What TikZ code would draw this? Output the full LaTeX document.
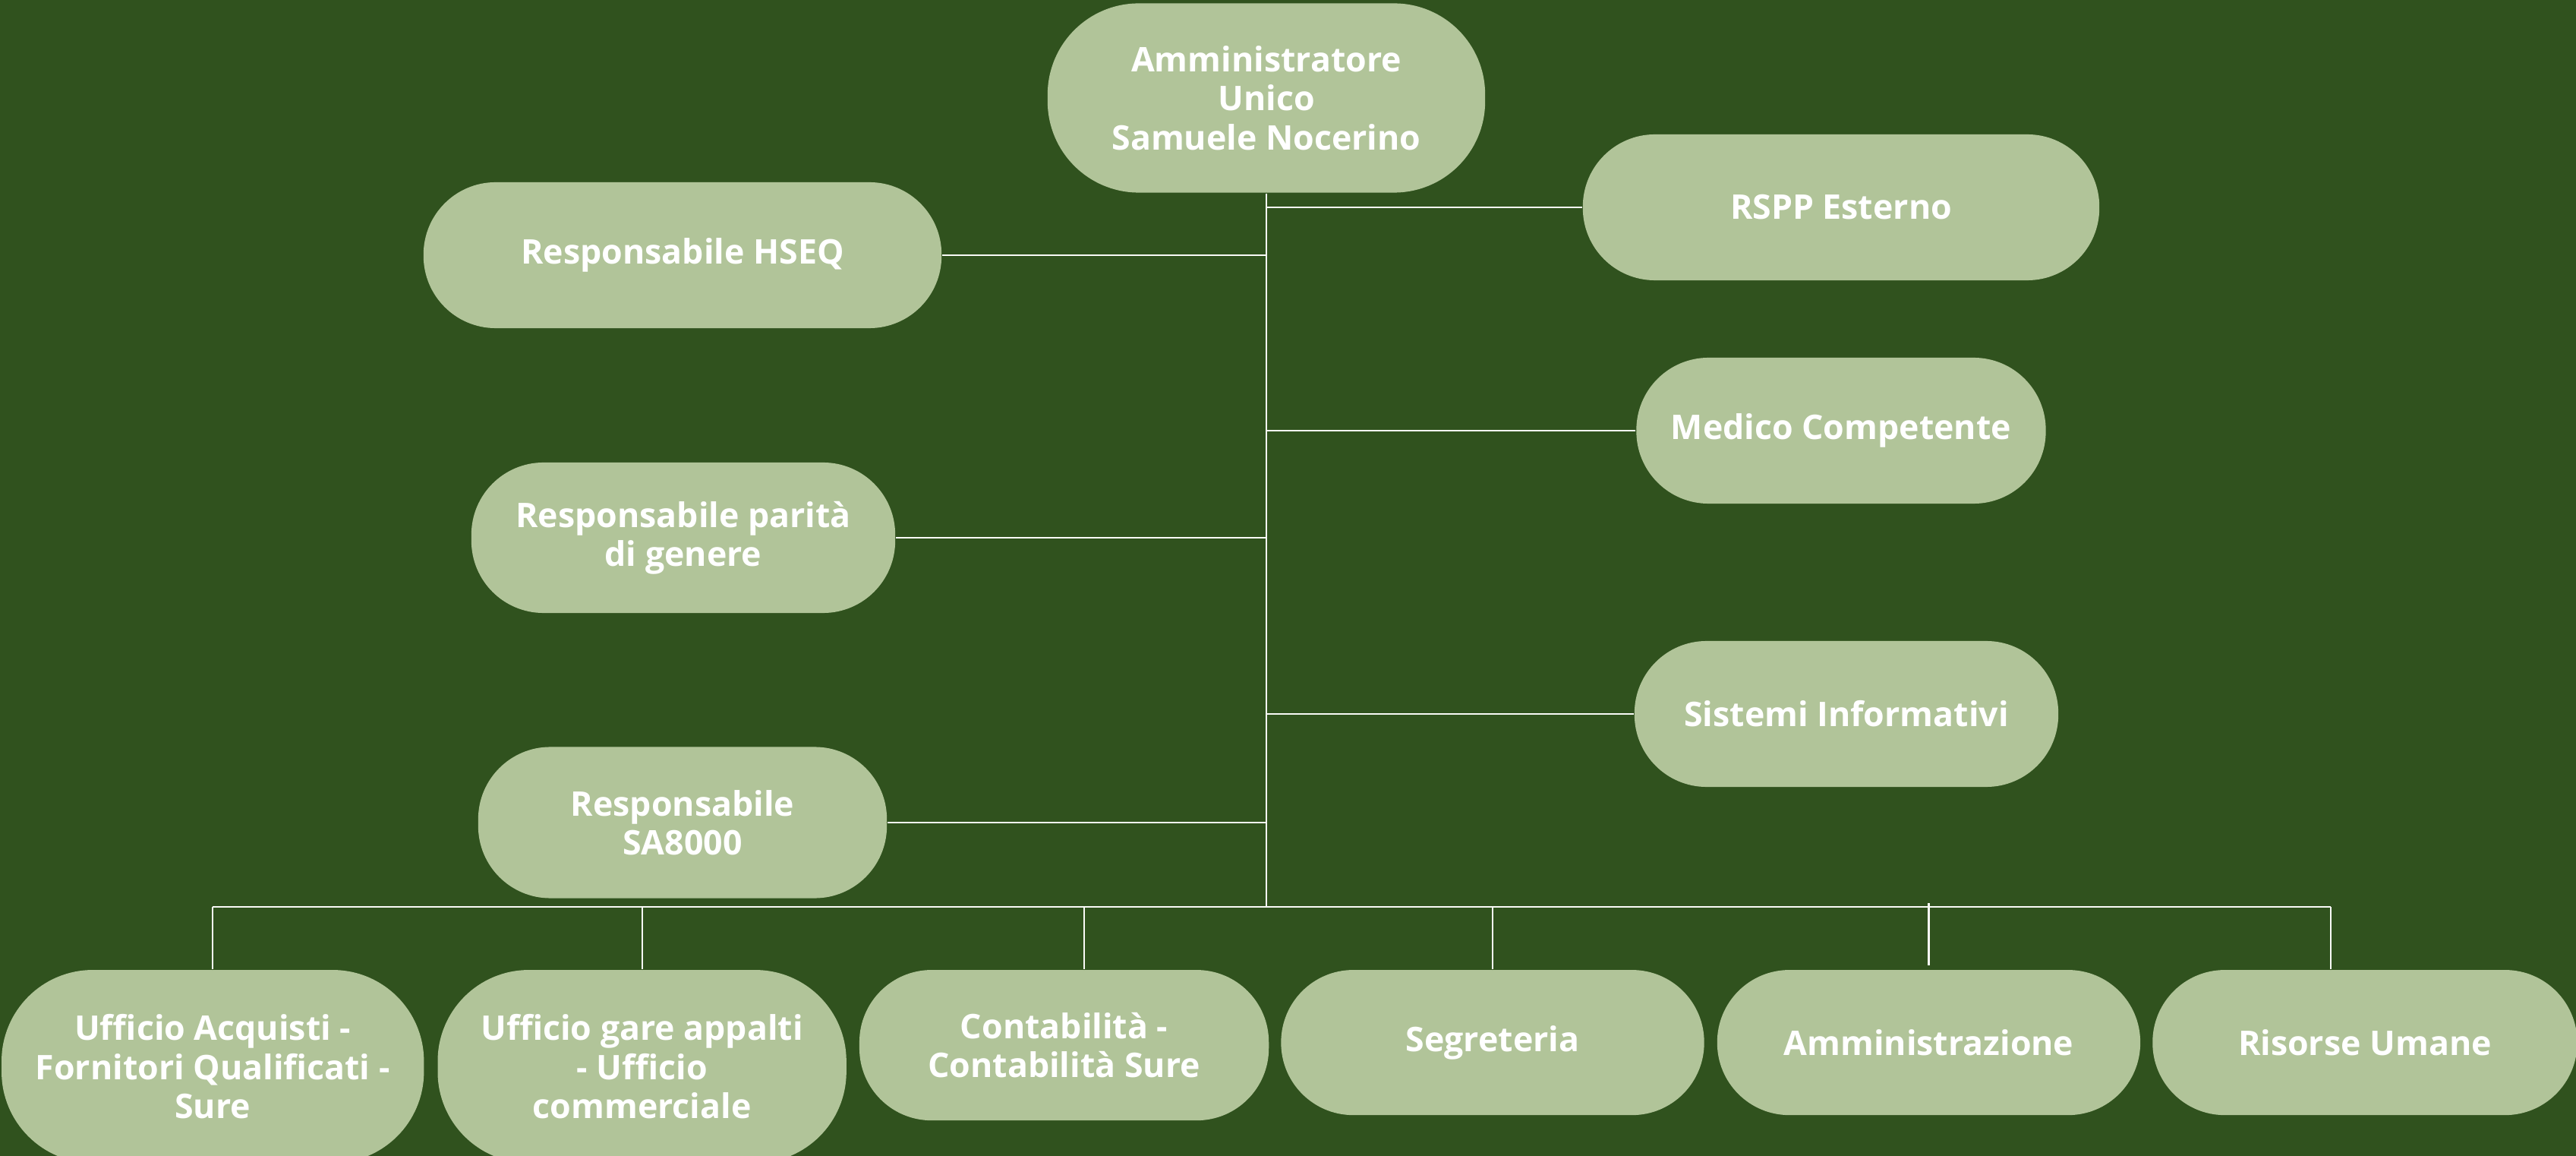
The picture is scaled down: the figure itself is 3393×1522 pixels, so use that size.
\documentclass[tikz,border=0pt]{standalone}
\usepackage{fontspec}
\setmainfont{Open Sans}
\usepackage{xcolor}
\usepackage{tikz}
\usetikzlibrary{positioning}
\definecolor{OrgBg}{HTML}{30521E}
\definecolor{OrgSage}{HTML}{B1C499}

\begin{document}
\begin{tikzpicture}[x=0.01cm,y=-0.01cm,
                    every node/.style={fill=OrgSage, rounded corners=0.95cm, align=center,
                                       inner sep=0pt, minimum width=5.5cm, minimum height=1.92cm,
                                       text=white, font=\fontsize{12.7}{14.6}\selectfont\bfseries},
                    every path/.style={draw=white!92!OrgSage, line width=0.6pt}]
\fill[OrgBg, draw=none] (0,0) rectangle (3393,1522);
\path[use as bounding box, draw=none] (0,0) rectangle (3393,1522);
% vertici
\node[minimum width=5.76cm, minimum height=2.49cm, rounded corners=1.2cm] (admin) at (1668,129) {Amministratore\\Unico\\Samuele Nocerino};
\node[minimum width=6.8cm] (rspp) at (2425,273) {RSPP Esterno};
\node[minimum width=6.82cm] (hseq) at (899,336) {Responsabile HSEQ};
\node[minimum width=5.39cm] (medico) at (2425,567) {Medico Competente};
\node[minimum width=5.58cm, minimum height=1.98cm] (parita) at (900,708) {Responsabile parità\\di genere};
\node[minimum width=5.58cm] (sistemi) at (2432,940) {Sistemi Informativi};
\node[minimum width=5.38cm, minimum height=1.99cm] (sa) at (899,1083) {Responsabile\\SA8000};
% uffici
\node[minimum width=5.56cm, minimum height=2.54cm, rounded corners=1.2cm, anchor=north west] (acquisti) at (1,1276) {Ufficio Acquisti -\\Fornitori Qualificati -\\Sure};
\node[minimum width=5.38cm, minimum height=2.54cm, rounded corners=1.2cm, anchor=north west] (gare) at ([xshift=0.16cm]acquisti.north east) {Ufficio gare appalti\\- Ufficio\\commerciale};
\node[minimum width=5.39cm, minimum height=1.98cm, anchor=north west] (contab) at ([xshift=0.15cm]gare.north east) {Contabilità -\\Contabilità Sure};
\node[minimum width=5.57cm, minimum height=1.91cm, anchor=north west] (segreteria) at ([xshift=0.14cm]contab.north east) {Segreteria};
\node[minimum width=5.57cm, minimum height=1.91cm, anchor=north west] (amm) at ([xshift=0.15cm]segreteria.north east) {Amministrazione};
\node[minimum width=5.59cm, minimum height=1.91cm, anchor=north west] (risorse) at ([xshift=0.14cm]amm.north east) {Risorse Umane};
\coordinate (busL) at (280,1194);
\coordinate (busR) at (3070,1194);
\coordinate (trunk) at (1668,1194);
\coordinate (contabdrop) at (1428,1194);
% linee
\draw (admin.south) -- (trunk);
\draw (busL) -- (busR);
\draw (rspp.west) -- (rspp.west -| trunk);
\draw (hseq.east) -- (hseq.east -| trunk);
\draw (medico.west) -- (medico.west -| trunk);
\draw (parita.east) -- (parita.east -| trunk);
\draw (sistemi.west) -- (sistemi.west -| trunk);
\draw (sa.east) -- (sa.east -| trunk);
\draw (acquisti.north) -- (acquisti.north |- busL);
\draw (gare.north) -- (gare.north |- busL);
\draw (contabdrop) -- (contabdrop |- contab.north);
\draw (segreteria.north) -- (segreteria.north |- busL);
\draw ([yshift=0.05cm]amm.north) -- ([yshift=0.05cm]amm.north |- busL);
\draw (busR) -- (busR |- risorse.north);
\end{tikzpicture}
\end{document}
